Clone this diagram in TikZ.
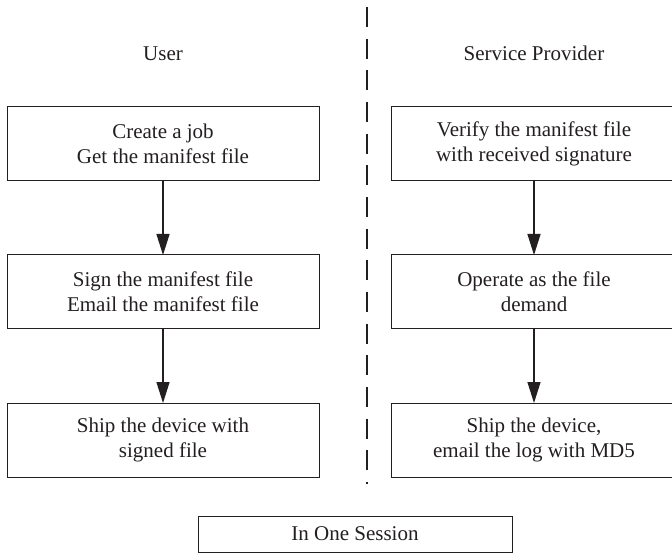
\documentclass[tikz,border=0pt]{standalone}
\usepackage{fontspec}
\setmainfont{Liberation Serif}
\usetikzlibrary{arrows.meta,positioning}
\definecolor{InkBlack}{HTML}{231F20}

\begin{document}
\begin{tikzpicture}[x=1pt,y=-1pt,
  stepbox/.style={rectangle,draw=InkBlack,line width=1pt,align=center,minimum height=74pt,inner sep=0pt,outer sep=0pt,text=InkBlack,font=\fontsize{21}{25}\selectfont},
  userbox/.style={stepbox,minimum width=312pt},
  provbox/.style={stepbox,minimum width=286pt},
  lanetitle/.style={inner sep=0pt,text=InkBlack,font=\fontsize{21}{25}\selectfont},
  arrow/.style={-{Triangle[length=21pt,width=13pt]},draw=InkBlack,line width=1.3pt},
  lane/.style={draw=InkBlack,line width=2.6pt,dash pattern=on 20pt off 11.67pt}
]
\useasboundingbox (0,0) rectangle (672,553);
% user side
\node[userbox] (create) at (163,144) {Create a job\\Get the manifest file};
\node[userbox,below=74pt of create] (sign) {Sign the manifest file\\Email the manifest file};
\node[userbox,below=74pt of sign] (shipuser) {Ship the device with\\signed file};
\node[lanetitle,above=46pt of create] (user) {User};
% provider side
\node[provbox] (verify) at (534,144) {Verify the manifest file\\with received signature};
\node[provbox,below=74pt of verify] (operate) {Operate as the file\\demand};
\node[provbox,below=74pt of operate] (shipprov) {Ship the device,\\email the log with MD5};
\node[lanetitle,above=46pt of verify] (provider) {Service Provider};
% divider and session
\coordinate (laneTop) at (367,7);
\coordinate (laneEnd) at (367,484);
\draw[lane] (laneTop) -- (laneEnd);
\node[stepbox,minimum width=314pt,minimum height=36pt] (session) at (355,534) {In One Session};
\draw[arrow] (create) -- (sign);
\draw[arrow] (sign) -- (shipuser);
\draw[arrow] (verify) -- (operate);
\draw[arrow] (operate) -- (shipprov);
\end{tikzpicture}
\end{document}
